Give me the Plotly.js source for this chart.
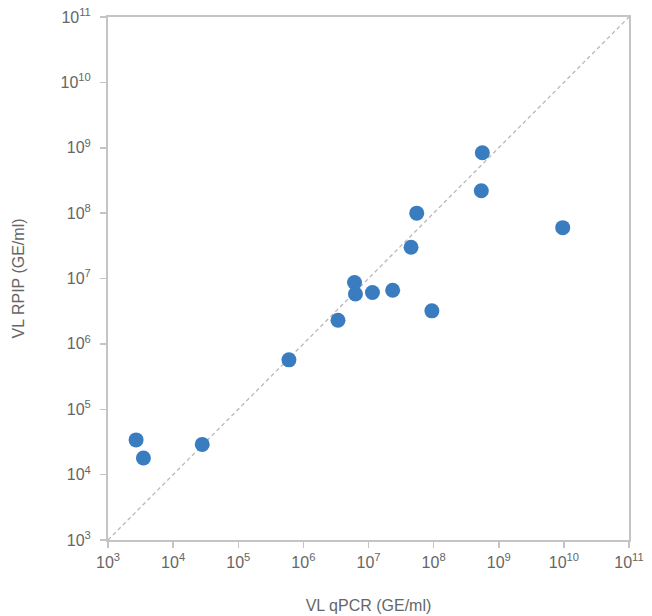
<!DOCTYPE html>
<html>
<head>
<meta charset="utf-8">
<script src="https://cdn.plot.ly/plotly-3.0.1.min.js"></script>
<style>html,body{margin:0;padding:0;background:#fff;}#chart{width:652px;height:616px;}</style>
</head>
<body>
<div id="chart"></div>
<script>
// VL qPCR (x) vs VL RPIP (y), GE/ml
const vlQPCR = [2.7e3, 3.5e3, 2.8e4, 6.0e5, 3.4e6, 6.1e6, 6.3e6, 1.15e7, 2.35e7, 4.5e7, 5.5e7, 9.4e7, 5.4e8, 5.6e8, 9.6e9];
const vlRPIP = [3.4e4, 1.8e4, 2.9e4, 5.7e5, 2.3e6, 8.7e6, 5.8e6, 6.1e6, 6.6e6, 3.0e7, 1.0e8, 3.2e6, 2.2e8, 8.4e8, 6.0e7];
const identityX = [1e3, 1e11];
const identityY = [1e3, 1e11];
const tickVals = [1e3, 1e4, 1e5, 1e6, 1e7, 1e8, 1e9, 1e10, 1e11];
const tickText = ['10<sup>3</sup>','10<sup>4</sup>','10<sup>5</sup>','10<sup>6</sup>','10<sup>7</sup>','10<sup>8</sup>','10<sup>9</sup>','10<sup>10</sup>','10<sup>11</sup>'];

const font = {family: 'Liberation Sans, Arial, sans-serif', color: '#666666'};
const axisCommon = {
  type: 'log',
  range: [3, 11],
  tickvals: tickVals,
  ticktext: tickText,
  ticks: 'outside',
  ticklen: 6,
  tickcolor: '#c4c4c4',
  tickwidth: 1.5,
  showline: true,
  linecolor: '#c4c4c4',
  linewidth: 2,
  mirror: true,
  showgrid: false,
  zeroline: false,
  tickfont: {family: font.family, color: '#666666', size: 16}
};

const data = [
  {x: identityX, y: identityY, mode: 'lines', type: 'scatter', hoverinfo: 'skip',
   line: {color: '#b8b8b8', width: 1.3, dash: '4px,3px'}},
  {x: vlQPCR, y: vlRPIP, mode: 'markers', type: 'scatter',
   marker: {color: '#3a7cc0', size: 15, line: {width: 0}}}
];

const layout = {
  width: 652, height: 616,
  margin: {l: 108, r: 23, t: 17, b: 76},
  paper_bgcolor: '#ffffff', plot_bgcolor: '#ffffff',
  showlegend: false,
  font: font,
  xaxis: Object.assign({}, axisCommon, {
    ticklabelstandoff: 1,
    title: {text: 'VL qPCR (GE/ml)', font: {family: font.family, color: '#666666', size: 16}, standoff: 30}
  }),
  yaxis: Object.assign({}, axisCommon, {
    ticklabelstandoff: 6,
    title: {text: 'VL RPIP (GE/ml)', font: {family: font.family, color: '#666666', size: 16}, standoff: 32}
  })
};

Plotly.newPlot('chart', data, layout, {displayModeBar: false, staticPlot: true});
</script>
</body>
</html>
